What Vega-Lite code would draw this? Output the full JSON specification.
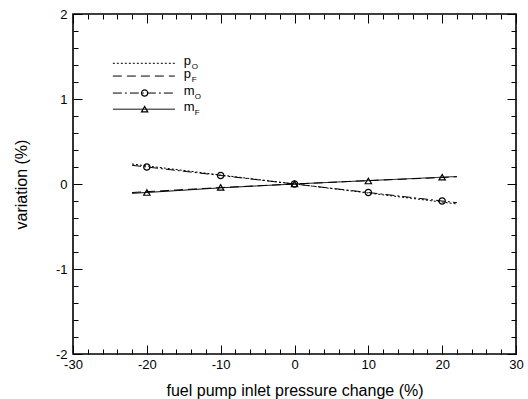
{
  "$schema": "https://vega.github.io/schema/vega-lite/v6.json",
  "autosize": {"type": "none"},
  "padding": {"left": 73, "top": 14, "right": 12, "bottom": 45},
  "width": 443,
  "height": 340,
  "background": "white",
  "config": {
    "view": {"stroke": "black", "strokeWidth": 1.6},
    "font": "Liberation Sans",
    "axis": {"grid": false, "domain": false, "tickColor": "black", "labelColor": "black", "titleColor": "black", "labelFont": "Liberation Sans", "titleFont": "Liberation Sans", "labelFontSize": 13, "titleFontSize": 16, "titleFontWeight": "normal", "labelFlush": false, "labelOverlap": false, "tickWidth": 1}
  },
  "datasets": {
    "curves": [
      {"series": "pO", "x": -22, "y": 0.235},
      {"series": "pO", "x": -20, "y": 0.213},
      {"series": "pO", "x": -10, "y": 0.106},
      {"series": "pO", "x": 0, "y": 0},
      {"series": "pO", "x": 10, "y": -0.106},
      {"series": "pO", "x": 20, "y": -0.213},
      {"series": "pO", "x": 22, "y": -0.235},
      {"series": "pF", "x": -22, "y": -0.1},
      {"series": "pF", "x": -20, "y": -0.09},
      {"series": "pF", "x": -10, "y": -0.042},
      {"series": "pF", "x": 0, "y": 0},
      {"series": "pF", "x": 10, "y": 0.04},
      {"series": "pF", "x": 20, "y": 0.076},
      {"series": "pF", "x": 22, "y": 0.085},
      {"series": "mO", "x": -22, "y": 0.22},
      {"series": "mO", "x": -20, "y": 0.2},
      {"series": "mO", "x": -10, "y": 0.1},
      {"series": "mO", "x": 0, "y": 0},
      {"series": "mO", "x": 10, "y": -0.1},
      {"series": "mO", "x": 20, "y": -0.2},
      {"series": "mO", "x": 22, "y": -0.22},
      {"series": "mF", "x": -22, "y": -0.11},
      {"series": "mF", "x": -20, "y": -0.1},
      {"series": "mF", "x": -10, "y": -0.045},
      {"series": "mF", "x": 0, "y": 0},
      {"series": "mF", "x": 10, "y": 0.04},
      {"series": "mF", "x": 20, "y": 0.08},
      {"series": "mF", "x": 22, "y": 0.088}
    ],
    "markers": [
      {"series": "mO", "x": -20, "y": 0.2},
      {"series": "mO", "x": -10, "y": 0.1},
      {"series": "mO", "x": 0, "y": 0},
      {"series": "mO", "x": 10, "y": -0.1},
      {"series": "mO", "x": 20, "y": -0.2},
      {"series": "mF", "x": -20, "y": -0.1},
      {"series": "mF", "x": -10, "y": -0.04},
      {"series": "mF", "x": 0, "y": 0},
      {"series": "mF", "x": 10, "y": 0.035},
      {"series": "mF", "x": 20, "y": 0.08}
    ],
    "legendLines": [
      {"series": "pO", "x": -24.6, "y": 1.42},
      {"series": "pO", "x": -16.2, "y": 1.42},
      {"series": "pF", "x": -24.6, "y": 1.27},
      {"series": "pF", "x": -16.2, "y": 1.27},
      {"series": "mO", "x": -24.6, "y": 1.07},
      {"series": "mO", "x": -16.2, "y": 1.07},
      {"series": "mF", "x": -24.6, "y": 0.88},
      {"series": "mF", "x": -16.2, "y": 0.88}
    ],
    "legendMarkers": [
      {"series": "mO", "x": -20.3, "y": 1.07},
      {"series": "mF", "x": -20.3, "y": 0.88}
    ],
    "legendText": [
      {"series": "pO", "x": -15.0, "y": 1.42, "main": "p", "sub": "O"},
      {"series": "pF", "x": -15.0, "y": 1.27, "main": "p", "sub": "F"},
      {"series": "mO", "x": -15.0, "y": 1.07, "main": "m", "sub": "O"},
      {"series": "mF", "x": -15.0, "y": 0.88, "main": "m", "sub": "F"}
    ]
  },
  "resolve": {"axis": {"x": "independent", "y": "independent"}},
  "layer": [
    {
      "data": {"name": "curves"},
      "mark": {"type": "line", "color": "black", "strokeWidth": 1},
      "encoding": {
        "x": {"field": "x", "type": "quantitative", "scale": {"domain": [-30, 30], "nice": false, "zero": false},
          "axis": {"orient": "bottom", "title": "fuel pump inlet pressure change (%)", "values": [-30,-28,-26,-24,-22,-20,-18,-16,-14,-12,-10,-8,-6,-4,-2,0,2,4,6,8,10,12,14,16,18,20,22,24,26,28,30],
            "labelExpr": "abs(datum.value % 10) < 0.01 ? '' + round(datum.value) : ''",
            "tickSize": {"condition": {"test": "abs(datum.value % 10) < 0.01", "value": -9}, "value": -5},
            "labelPadding": 13, "titlePadding": 7}},
        "y": {"field": "y", "type": "quantitative", "scale": {"domain": [-2, 2], "nice": false, "zero": false},
          "axis": {"orient": "left", "title": "variation (%)", "values": [-2,-1.8,-1.6,-1.4,-1.2,-1,-0.8,-0.6,-0.4,-0.2,0,0.2,0.4,0.6,0.8,1,1.2,1.4,1.6,1.8,2],
            "labelExpr": "abs(datum.value - round(datum.value)) < 0.01 ? '' + round(datum.value) : ''",
            "tickSize": {"condition": {"test": "abs(datum.value - round(datum.value)) < 0.01", "value": -9}, "value": -5},
            "labelPadding": 15, "titlePadding": 26}},
        "strokeDash": {"field": "series", "type": "nominal", "scale": {"domain": ["pO", "pF", "mO", "mF"], "range": [[2, 2], [9, 5], [9, 3, 2, 3], [1, 0]]}, "legend": null},
        "detail": {"field": "series"}
      }
    },
    {
      "data": {"name": "markers"},
      "mark": {"type": "point", "color": "black", "filled": false, "strokeWidth": 1.2, "opacity": 1},
      "encoding": {
        "x": {"field": "x", "type": "quantitative", "scale": {"domain": [-30, 30], "nice": false, "zero": false},
          "axis": {"orient": "top", "title": null, "values": [-30,-28,-26,-24,-22,-20,-18,-16,-14,-12,-10,-8,-6,-4,-2,0,2,4,6,8,10,12,14,16,18,20,22,24,26,28,30], "labels": false,
            "tickSize": {"condition": {"test": "abs(datum.value % 10) < 0.01", "value": -9}, "value": -5}}},
        "y": {"field": "y", "type": "quantitative", "scale": {"domain": [-2, 2], "nice": false, "zero": false},
          "axis": {"orient": "right", "title": null, "values": [-2,-1.8,-1.6,-1.4,-1.2,-1,-0.8,-0.6,-0.4,-0.2,0,0.2,0.4,0.6,0.8,1,1.2,1.4,1.6,1.8,2], "labels": false,
            "tickSize": {"condition": {"test": "abs(datum.value - round(datum.value)) < 0.01", "value": -9}, "value": -5}}},
        "shape": {"field": "series", "type": "nominal", "scale": {"domain": ["mO", "mF"], "range": ["circle", "triangle-up"]}, "legend": null},
        "size": {"value": 40}
      }
    },
    {
      "data": {"name": "legendLines"},
      "mark": {"type": "line", "color": "black", "strokeWidth": 1},
      "encoding": {
        "x": {"field": "x", "type": "quantitative", "axis": null},
        "y": {"field": "y", "type": "quantitative", "axis": null},
        "strokeDash": {"field": "series", "type": "nominal", "legend": null},
        "detail": {"field": "series"}
      }
    },
    {
      "data": {"name": "legendMarkers"},
      "mark": {"type": "point", "color": "black", "filled": false, "strokeWidth": 1.2, "opacity": 1},
      "encoding": {
        "x": {"field": "x", "type": "quantitative", "axis": null},
        "y": {"field": "y", "type": "quantitative", "axis": null},
        "shape": {"field": "series", "type": "nominal", "legend": null},
        "size": {"value": 40}
      }
    },
    {
      "data": {"name": "legendText"},
      "mark": {"type": "text", "align": "left", "baseline": "middle", "fontSize": 13, "dy": -2, "color": "black"},
      "encoding": {
        "x": {"field": "x", "type": "quantitative", "axis": null},
        "y": {"field": "y", "type": "quantitative", "axis": null},
        "text": {"field": "main"}
      }
    },
    {
      "data": {"name": "legendText"},
      "transform": [{"filter": "datum.main === 'p'"}],
      "mark": {"type": "text", "align": "left", "baseline": "middle", "fontSize": 8, "dx": 8, "dy": 4, "color": "black"},
      "encoding": {
        "x": {"field": "x", "type": "quantitative", "axis": null},
        "y": {"field": "y", "type": "quantitative", "axis": null},
        "text": {"field": "sub"}
      }
    },
    {
      "data": {"name": "legendText"},
      "transform": [{"filter": "datum.main === 'm'"}],
      "mark": {"type": "text", "align": "left", "baseline": "middle", "fontSize": 8, "dx": 11, "dy": 4, "color": "black"},
      "encoding": {
        "x": {"field": "x", "type": "quantitative", "axis": null},
        "y": {"field": "y", "type": "quantitative", "axis": null},
        "text": {"field": "sub"}
      }
    }
  ]
}
